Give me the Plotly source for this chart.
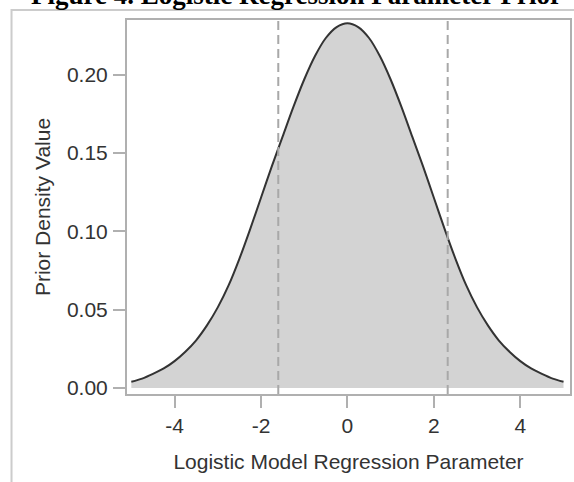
import plotly.graph_objects as go

# Parameter values (x) and prior density values
param_x = [-5.0, -4.75, -4.5, -4.25, -4.0, -3.75, -3.5, -3.25, -3.0, -2.75, -2.5, -2.25,
           -2.0, -1.75, -1.5, -1.25, -1.0, -0.75, -0.5, -0.25, 0.0,
           0.25, 0.5, 0.75, 1.0, 1.25, 1.5, 1.75, 2.0, 2.25, 2.5, 2.75,
           3.0, 3.25, 3.5, 3.75, 4.0, 4.25, 4.5, 4.75, 5.0]
density_y = [0.0040, 0.0060, 0.0090, 0.0125, 0.0172, 0.0232, 0.0305, 0.0400, 0.0515, 0.0655, 0.0825, 0.1015,
             0.1215, 0.1415, 0.1605, 0.1795, 0.1970, 0.2120, 0.2235, 0.2305, 0.2330,
             0.2305, 0.2235, 0.2120, 0.1970, 0.1795, 0.1605, 0.1415, 0.1215, 0.1015, 0.0825, 0.0655,
             0.0515, 0.0400, 0.0305, 0.0232, 0.0172, 0.0125, 0.0090, 0.0060, 0.0040]

# Reference (dashed) lines
ref_lines = [-1.6, 2.32]

x_ticks = [-4, -2, 0, 2, 4]
y_ticks = [0.00, 0.05, 0.10, 0.15, 0.20]

title_text = "Figure 4. Logistic Regression Parameter Prior"
x_title = "Logistic Model Regression Parameter"
y_title = "Prior Density Value"

W, H = 574, 482
L, R, T, B = 127, 2, 20, 88
pw, ph = W - L - R, H - T - B

fig = go.Figure()
fig.add_trace(go.Scatter(
    x=param_x, y=density_y, mode="lines", fill="tozeroy",
    fillcolor="#d3d3d3", line=dict(color="#333333", width=2, shape="spline", smoothing=0.8),
    hoverinfo="x+y", showlegend=False))

for xv in ref_lines:
    fig.add_shape(type="line", xref="x", yref="paper", x0=xv, x1=xv, y0=0, y1=1,
                  line=dict(color="#a8a8a8", width=2, dash="9px,5px"), layer="above")

# outer frame
fig.add_shape(type="rect", xref="paper", yref="paper",
              x0=(11 - L) / pw, x1=(W + 20 - L) / pw,
              y0=-(H + 20 - (T + ph)) / ph, y1=(T + ph - 10) / ph,
              line=dict(color="#cccccc", width=2), fillcolor="rgba(0,0,0,0)", layer="below")

fig.add_annotation(text="<b>" + title_text + "</b>", xref="paper", yref="paper",
                   x=(297 - L) / pw, y=(T + ph - 12) / ph, xanchor="center", yanchor="bottom",
                   showarrow=False,
                   font=dict(family="Liberation Serif, Times New Roman, serif", size=27, color="#000000"))

axis_font = dict(family="Liberation Sans, Arial, sans-serif", size=21, color="#333333")

fig.update_layout(
    width=W, height=H,
    margin=dict(l=L, r=R, t=T, b=B),
    paper_bgcolor="white", plot_bgcolor="white",
    xaxis=dict(range=[-5.1, 5.15], tickvals=x_ticks, ticktext=[str(v) for v in x_ticks],
               showgrid=False, zeroline=False, showline=True, mirror=True,
               linecolor="#b0b0b0", linewidth=2, ticks="outside", ticklen=12,
               tickcolor="#b0b0b0", tickwidth=2, tickfont=axis_font, ticklabelstandoff=0,
               title=dict(text=x_title, font=axis_font, standoff=18)),
    yaxis=dict(range=[-0.0038, 0.235], tickvals=y_ticks, tickformat=".2f",
               showgrid=False, zeroline=False, showline=True, mirror=True,
               linecolor="#b0b0b0", linewidth=2, ticks="outside", ticklen=12,
               tickcolor="#b0b0b0", tickwidth=2, tickfont=axis_font, ticklabelstandoff=1,
               title=dict(text=y_title, font=axis_font, standoff=11)),
)

fig.write_html("out.html")
